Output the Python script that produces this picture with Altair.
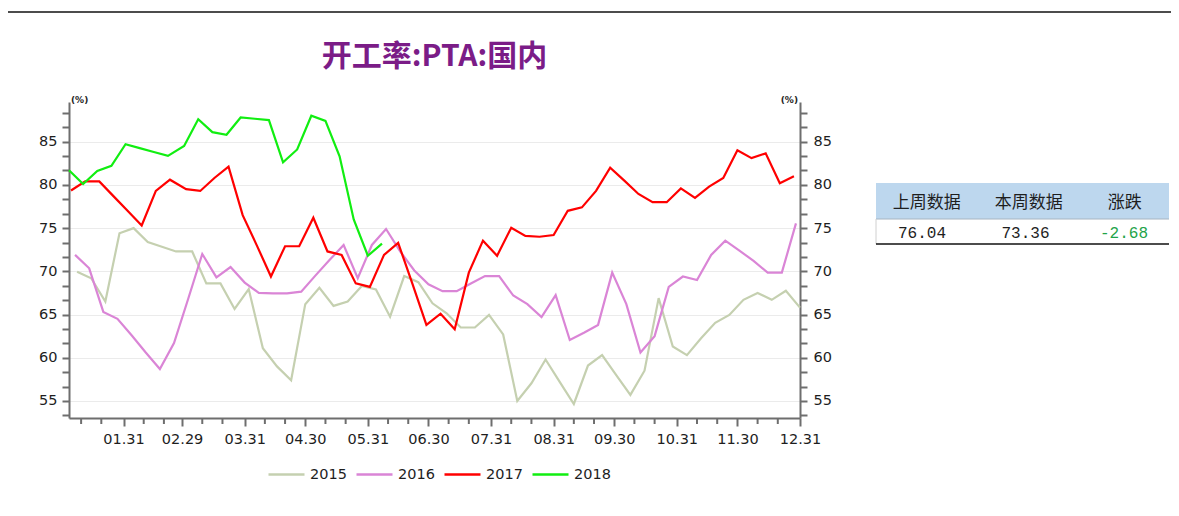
import altair as alt
import pandas as pd
from datetime import date, timedelta

TITLE = "开工率:PTA:国内"
years = ["2015", "2016", "2017", "2018"]
line_colors = ["#C5D0B0", "#DA85D6", "#FF0000", "#11EE11"]
first_dates = ["2015-01-08", "2016-01-07", "2017-01-05", "2018-01-04"]

v2015 = [69.96, 69.2, 66.5, 74.4, 75.0, 73.4, 72.85, 72.3, 72.3, 68.6, 68.6, 65.65,
         67.95, 61.1, 59.0, 57.4, 66.2, 68.1, 66.0, 66.5, 68.3, 67.9, 64.75, 69.45,
         68.75, 66.3, 65.15, 63.5, 63.5, 64.95, 62.7, 55.0, 57.05, 59.8, 57.2, 54.65,
         59.1, 60.3, 58.0, 55.7, 58.5, 66.9, 61.3, 60.3, 62.25, 64.05, 64.95, 66.7,
         67.5, 66.7, 67.75, 65.8]
v2016 = [71.9, 70.35, 65.3, 64.5, 62.6, 60.6, 58.7, 61.7, 66.8, 72.0, 69.3, 70.5,
         68.7, 67.5, 67.45, 67.45, 67.65, 69.5, 71.3, 73.05, 69.2, 73.05, 74.9, 72.3,
         70.1, 68.5, 67.7, 67.7, 68.6, 69.45, 69.45, 67.2, 66.2, 64.7, 67.25, 62.05,
         62.9, 63.8, 69.85, 66.2, 60.6, 62.5, 68.2, 69.4, 69.0, 71.9, 73.55, 72.4,
         71.2, 69.85, 69.85, 75.55]
v2017 = [79.35, 80.4, 80.4, 78.7, 77.0, 75.3, 79.3, 80.6, 79.5, 79.3, 80.8, 82.1,
         76.5, 73.0, 69.4, 72.9, 72.9, 76.2, 72.3, 71.9, 68.6, 68.2, 71.9, 73.3,
         68.6, 63.8, 65.1, 63.3, 69.85, 73.55, 71.8, 75.05, 74.1, 74.0, 74.2, 77.0,
         77.4, 79.3, 82.0, 80.5, 78.95, 78.0, 78.0, 79.6, 78.5, 79.8, 80.8, 84.0,
         83.1, 83.65, 80.2, 81.0]
v2018 = [81.7, 80.1, 81.6, 82.2, 84.7, 84.25, 83.8, 83.35, 84.5, 87.6, 86.1, 85.8,
         87.8, 87.65, 87.5, 82.6, 84.1, 88.0, 87.4, 83.3, 76.0, 71.8, 73.2]

x_tick_labels = ["01.31", "02.29", "03.31", "04.30", "05.31", "06.30",
                 "07.31", "08.31", "09.30", "10.31", "11.30", "12.31"]
y_tick_labels = [55, 60, 65, 70, 75, 80, 85]

table_headers = ["上周数据", "本周数据", "涨跌"]
table_values = ["76.04", "73.36", "-2.68"]
table_value_colors = ["#1E1E1E", "#1E1E1E", "#1FA34A"]

# ---- long table of the four weekly series ----
rows = []
for yr, d0s, vals in zip(years, first_dates, [v2015, v2016, v2017, v2018]):
    d0 = date.fromisoformat(d0s)
    for i, v in enumerate(vals):
        d = d0 + timedelta(days=7 * i)
        rows.append({"year": yr, "date": d.replace(year=2016).isoformat(), "value": v})
df = pd.DataFrame(rows)

# ---- axis ticks ----
x_major = []
x_minor = []
for lab in x_tick_labels:
    m, d = int(lab[:2]), int(lab[3:])
    x_major.append(alt.DateTime(year=2016, month=m, date=d, utc=True))
    x_minor.append(f"2016-{m:02d}-10")
    x_minor.append(f"2016-{m:02d}-20")
minor_df = pd.DataFrame({"date": x_minor})

y_ticks = [round(y_tick_labels[0] - 5 / 3 + i * 5 / 3, 4) for i in range(22)]
major_test = "abs(datum.value - round(datum.value / 5) * 5) < 0.01"

AX_COLOR = "#6E6E6E"
LBL_COLOR = "#1E1E1E"
FONT = "DejaVu Sans"

x_scale = alt.Scale(type="utc", domain=[alt.DateTime(year=2016, month=1, date=4, utc=True),
                                        alt.DateTime(year=2016, month=12, date=31, utc=True)])
x_enc = alt.X(
    "date:T", scale=x_scale,
    axis=alt.Axis(
        values=x_major, labelExpr="utcFormat(datum.value, '%m.%d')",
        tickSize=8, labelPadding=6, labelFlush=False, labelOverlap=False, labelBound=False,
        grid=False, title=None, domainColor=AX_COLOR, domainWidth=2,
        tickColor=AX_COLOR, tickWidth=2, labelFont=FONT, labelFontSize=14.5,
        labelColor=LBL_COLOR,
    ),
)

y_scale = alt.Scale(domain=[53.03, 89.59], nice=False, zero=False)

y_axis_left = alt.Axis(
    orient="left", values=y_ticks,
    labelExpr=f"({major_test}) ? format(datum.value, '.0f') : ''",
    tickSize=7, labelPadding=5, grid=True, gridColor="#EBEBEB", gridWidth=1,
    gridOpacity={"condition": {"test": major_test, "value": 1}, "value": 0},
    labelOverlap=False, title=None, domainColor=AX_COLOR, domainWidth=2,
    tickColor=AX_COLOR, tickWidth=2, labelFont=FONT, labelFontSize=14.5,
    labelColor=LBL_COLOR,
)
y_axis_right = alt.Axis(
    orient="right", values=y_ticks,
    labelExpr=f"({major_test}) ? format(datum.value, '.0f') : ''",
    tickSize=7, labelPadding=6, grid=False, labelOverlap=False, title=None,
    domainColor=AX_COLOR, domainWidth=2, tickColor=AX_COLOR, tickWidth=2,
    labelFont=FONT, labelFontSize=14.5, labelColor=LBL_COLOR,
)

legend = alt.Legend(
    orient="none", legendX=198, legendY=353, direction="horizontal", title=None,
    symbolType="stroke", symbolSize=1296, symbolStrokeWidth=2.5,
    labelFont=FONT, labelFontSize=14.5, labelColor=LBL_COLOR, labelOffset=4,
    columnPadding=4, padding=0,
)

lines = alt.Chart(df).mark_line(strokeWidth=2.2).encode(
    x=x_enc,
    y=alt.Y("value:Q", scale=y_scale, axis=y_axis_left),
    color=alt.Color("year:N", scale=alt.Scale(domain=years, range=line_colors), legend=legend),
)

right_axis = alt.Chart(df).mark_line(strokeOpacity=0).encode(
    x=alt.X("date:T"),
    y=alt.Y("value:Q", scale=y_scale, axis=y_axis_right),
)

minor_ticks = alt.Chart(minor_df).mark_rule(color=AX_COLOR, strokeWidth=2).encode(
    x=alt.X("date:T"), y=alt.value(317), y2=alt.value(322))


def text_layer(txt, x, y, **kw):
    return alt.Chart(pd.DataFrame({"t": [txt]})).mark_text(**kw).encode(
        text="t:N", x=alt.value(x), y=alt.value(y))


one = pd.DataFrame({"k": [0]})

title = text_layer(TITLE, 365.5, -45, font="Noto Sans CJK SC", fontSize=30,
                   fontWeight="bold", color="#7B1C87", align="center", baseline="middle")
pct_left = text_layer("(%)", 2, -2, font=FONT, fontSize=9, fontWeight="bold",
                      color="#1E1E1E", align="left", baseline="middle")
pct_right = text_layer("(%)", 729, -2, font=FONT, fontSize=9, fontWeight="bold",
                       color="#1E1E1E", align="right", baseline="middle")

top_line = alt.Chart(one).mark_rule(color="#111111", strokeWidth=1.5).encode(
    x=alt.value(-61), x2=alt.value(1102), y=alt.value(-90))

header_bg = alt.Chart(one).mark_rect(color="#BDD7EE").encode(
    x=alt.value(807), x2=alt.value(1100), y=alt.value(81), y2=alt.value(117))
header_sep = alt.Chart(one).mark_rule(color="#A6B4C2", strokeWidth=1).encode(
    x=alt.value(807), x2=alt.value(1100), y=alt.value(117))
row_left = alt.Chart(one).mark_rule(color="#D0D0D0", strokeWidth=1).encode(
    x=alt.value(807), y=alt.value(117), y2=alt.value(142))
row_bottom = alt.Chart(one).mark_rule(color="#111111", strokeWidth=1.5).encode(
    x=alt.value(807), x2=alt.value(1100), y=alt.value(142))

header_x = [857.7, 959.7, 1055.7]
value_x = [853.0, 956.5, 1055.0]
table_layers = []
for h, hx in zip(table_headers, header_x):
    table_layers.append(text_layer(h, hx, 101.3, font="Noto Sans CJK SC", fontSize=17,
                                   color="#1E1E1E", align="center", baseline="middle"))
for v, vx, vc in zip(table_values, value_x, table_value_colors):
    table_layers.append(text_layer(v, vx, 131.3, font="Liberation Mono", fontSize=16,
                                   color=vc, align="center", baseline="middle"))

chart = alt.layer(
    lines, right_axis, minor_ticks, title, pct_left, pct_right, top_line,
    header_bg, header_sep, row_left, row_bottom, *table_layers,
).resolve_scale(y="independent").properties(
    width=731, height=316,
    autosize=alt.AutoSizeParams(type="none"),
    padding={"left": 61, "top": 94, "right": 371, "bottom": 80},
).configure_view(stroke=None)

chart.save("out.html", embed_options={"renderer": "svg", "actions": False})
